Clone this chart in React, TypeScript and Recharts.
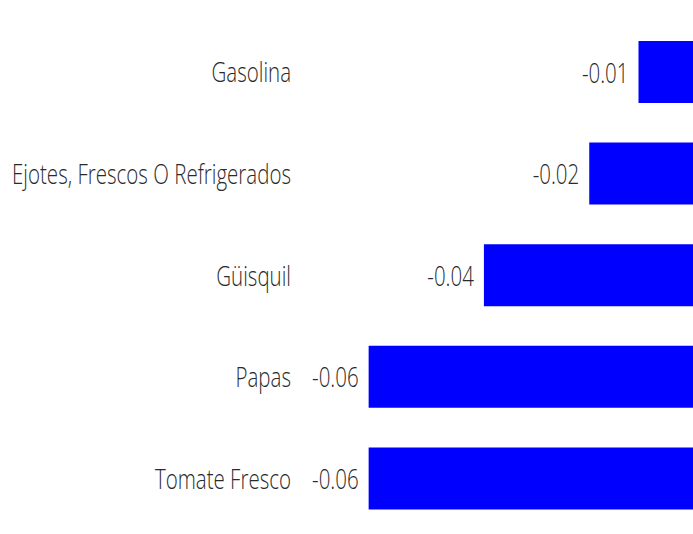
import { Bar, BarChart, LabelList, XAxis, YAxis } from 'recharts';

const CATEGORIES = ['Gasolina', 'Ejotes, Frescos O Refrigerados', 'Güisquil', 'Papas', 'Tomate Fresco'];
const VALUES = [-0.0104, -0.0198, -0.0399, -0.0619, -0.0619];

const TEXT = '#2a2a2a';
const BLUE = '#0000ff';
const FONT = '"Open Sans", sans-serif';
const SQUEEZE = 0.76;

const data = CATEGORIES.map((name, i) => ({ name, value: VALUES[i] }));

function NameTick({ x, y, payload }: any) {
  return (
    <g transform={`translate(${x},${y}) scale(${SQUEEZE},1)`}>
      <text x={0} y={0} textAnchor="end" dominantBaseline="central" fill={TEXT} fontFamily={FONT} fontWeight={300} fontSize={27}>
        {payload.value}
      </text>
    </g>
  );
}

function ValueLabel({ x, y, width, height, value }: any) {
  const left = Math.min(x, x + width);
  return (
    <g transform={`translate(${left - 10},${y + height / 2}) scale(${SQUEEZE},1)`}>
      <text x={0} y={0} textAnchor="end" dominantBaseline="central" fill={TEXT} fontFamily={FONT} fontWeight={300} fontSize={27}>
        {Number(value).toFixed(2)}
      </text>
    </g>
  );
}

export default function App() {
  return (
    <div>
      <style>{'body{margin:0;background:#fff}'}</style>
      <BarChart
        width={693}
        height={534}
        data={data}
        layout="vertical"
        margin={{ top: 21, right: 0, left: 0, bottom: 5 }}
      >
        <XAxis type="number" domain={[-0.075, 0]} hide />
        <YAxis
          dataKey="name"
          type="category"
          width={300}
          axisLine={false}
          tickLine={false}
          tickSize={0}
          tickMargin={9}
          tick={<NameTick />}
        />
        <Bar dataKey="value" fill={BLUE} barSize={62} isAnimationActive={false}>
          <LabelList dataKey="value" content={<ValueLabel />} />
        </Bar>
      </BarChart>
    </div>
  );
}
